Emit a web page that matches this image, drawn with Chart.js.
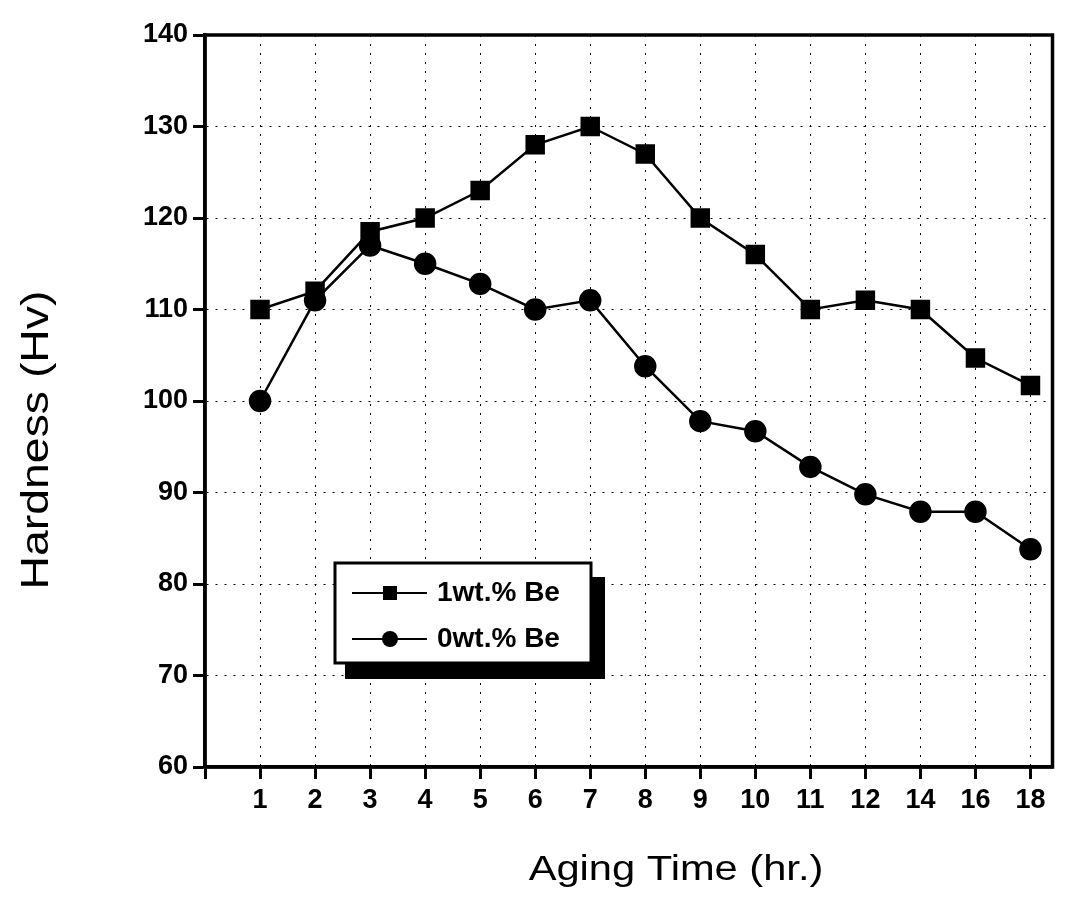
<!DOCTYPE html>
<html>
<head>
<meta charset="utf-8">
<script src="https://cdn.jsdelivr.net/npm/chart.js@4.4.0/dist/chart.umd.min.js"></script>
<style>
  body { margin: 0; background: #fff; }
  #wrap { width: 1067px; height: 905px; }
</style>
</head>
<body>
<div id="wrap"><canvas id="hardness"></canvas></div>
<script>
// aging time categories (plotted evenly spaced)
var agingTimes = ['1', '2', '3', '4', '5', '6', '7', '8', '9', '10', '11', '12', '14', '16', '18'];
var be1 = [110, 112, 118.5, 120, 123, 128, 130, 127, 120, 116, 110, 111, 110, 104.7, 101.7];
var be0 = [100, 111, 117, 115, 112.8, 110, 111, 103.8, 97.8, 96.7, 92.8, 89.8, 87.9, 87.9, 83.8];
var yTicks = [60, 70, 80, 90, 100, 110, 120, 130, 140];
var xTitle = 'Aging Time (hr.)';
var yTitle = 'Hardness (Hv)';

function toPoints(vals) {
    var pts = [];
    for (var i = 0; i < vals.length; i++) {
        pts.push({ x: i + 1, y: vals[i] });
    }
    return pts;
}

var fam = "'Liberation Sans', Arial, sans-serif";

// frame, axis titles and the boxed legend with its drop shadow
var framePlugin = {
    id: 'frame',
    afterDraw: function (chart) {
        var c = chart.ctx, a = chart.chartArea;
        c.save();
        c.strokeStyle = '#000';
        c.lineWidth = 3.5;
        c.strokeRect(a.left, a.top, a.right - a.left, a.bottom - a.top);

        // titles (scan is a bit wide, so stretch them a little)
        c.fillStyle = '#000';
        c.font = '35px ' + fam;
        c.textAlign = 'center';
        c.textBaseline = 'alphabetic';
        c.save();
        c.translate(a.left + 471, a.bottom + 113);
        c.scale(1.19, 1);
        c.fillText(xTitle, 0, 0);
        c.restore();

        c.save();
        c.font = '38px ' + fam;
        c.translate(a.left - 167, a.top + 405);
        c.rotate(-Math.PI / 2);
        c.scale(1.22, 1);
        c.textBaseline = 'middle';
        c.fillText(yTitle, 0, 0);
        c.restore();

        var bx = a.left + 130, by = a.top + 528, bw = 256, bh = 100;
        c.fillStyle = '#000';
        c.fillRect(bx + 10, by + 14, bw + 4, bh + 2);
        c.fillStyle = '#fff';
        c.fillRect(bx, by, bw, bh);
        c.lineWidth = 3;
        c.strokeRect(bx, by, bw, bh);

        var sets = chart.data.datasets;
        c.textAlign = 'left';
        for (var i = 0; i < sets.length; i++) {
            var yy = by + 30 + i * 46;
            c.beginPath();
            c.lineWidth = 2;
            c.moveTo(bx + 17, yy);
            c.lineTo(bx + 92, yy);
            c.stroke();
            c.fillStyle = '#000';
            if (sets[i].pointStyle === 'rect') {
                c.fillRect(bx + 48, yy - 7, 14, 14);
            } else {
                c.beginPath();
                c.arc(bx + 55, yy, 8, 0, Math.PI * 2);
                c.fill();
            }
            c.font = 'bold 28px ' + fam;
            c.textBaseline = 'middle';
            c.fillText(sets[i].label, bx + 102, yy);
        }
        c.restore();
    }
};

var gridOpts = {
    color: '#000',
    lineWidth: 1,
    tickLength: 12,
    tickColor: '#000',
    tickWidth: 3,
    tickBorderDash: []
};

var ctx = document.getElementById('hardness');

var chart = new Chart(ctx, {
    type: 'line',
    data: {
        datasets: [
            {
                label: '1wt.% Be',
                data: toPoints(be1),
                borderColor: '#000',
                backgroundColor: '#000',
                borderWidth: 2.5,
                pointStyle: 'rect',
                pointRadius: 12,
                pointHoverRadius: 12
            },
            {
                label: '0wt.% Be',
                data: toPoints(be0),
                borderColor: '#000',
                backgroundColor: '#000',
                borderWidth: 2.5,
                pointStyle: 'circle',
                pointRadius: 10,
                pointHoverRadius: 10
            }
        ]
    },
    options: {
        responsive: true,
        maintainAspectRatio: false,
        animation: false,
        layout: { padding: { top: 35, right: 12, left: 0, bottom: 0 } },
        plugins: {
            legend: { display: false },
            tooltip: { enabled: false }
        },
        scales: {
            x: {
                type: 'linear',
                min: 0,
                max: 15.4,
                afterFit: function (s) { s.height = 138; },
                ticks: {
                    stepSize: 1,
                    includeBounds: false,
                    autoSkip: false,
                    maxRotation: 0,
                    color: '#000',
                    padding: 5,
                    font: { family: fam, size: 27, weight: 'bold' },
                    callback: function (v) {
                        return v >= 1 ? agingTimes[v - 1] : '';
                    }
                },
                grid: gridOpts,
                border: { display: true, color: '#000', width: 3.5, dash: [2, 7] }
            },
            y: {
                min: 60,
                max: 140,
                afterFit: function (s) { s.width = 205; },
                afterBuildTicks: function (s) {
                    s.ticks = yTicks.map(function (v) { return { value: v }; });
                },
                ticks: {
                    color: '#000',
                    padding: 5,
                    font: { family: fam, size: 27, weight: 'bold' }
                },
                grid: gridOpts,
                border: { display: true, color: '#000', width: 3.5, dash: [2, 7] }
            }
        }
    },
    plugins: [framePlugin]
});
</script>
</body>
</html>
